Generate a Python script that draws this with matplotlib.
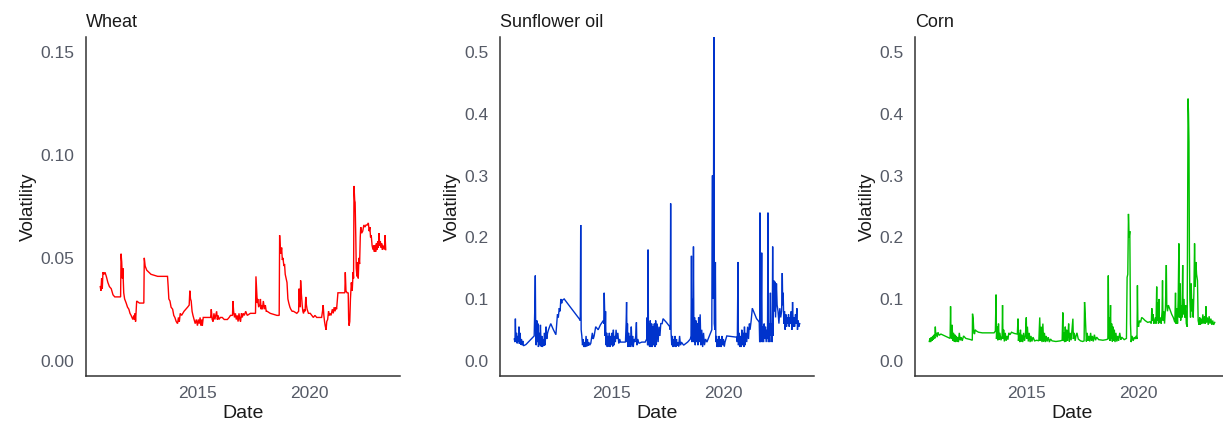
import matplotlib
matplotlib.use("Agg")
import matplotlib.pyplot as plt
import numpy as np

plt.rcParams['font.family'] = ['Liberation Sans', 'DejaVu Sans']

# (decimal year, volatility)
wheat = [
(2010.65,0.036),(2010.68,0.034),(2010.71,0.040),(2010.74,0.035),(2010.77,0.043),(2010.82,0.042),
(2010.86,0.043),(2010.92,0.041),(2010.99,0.038),(2011.06,0.036),(2011.14,0.035),(2011.22,0.032),
(2011.30,0.031),(2011.56,0.031),(2011.58,0.052),(2011.61,0.048),(2011.64,0.040),(2011.66,0.045),
(2011.70,0.033),(2011.74,0.030),(2011.81,0.028),(2011.87,0.026),(2011.93,0.025),(2011.98,0.023),
(2012.03,0.022),(2012.07,0.021),(2012.11,0.020),(2012.15,0.022),(2012.18,0.020),(2012.21,0.023),
(2012.23,0.019),(2012.26,0.025),(2012.28,0.029),(2012.40,0.028),(2012.60,0.028),(2012.62,0.050),
(2012.66,0.046),(2012.73,0.044),(2012.92,0.042),(2013.22,0.041),(2013.66,0.041),(2013.69,0.036),
(2013.72,0.030),(2013.77,0.029),(2013.82,0.026),(2013.89,0.025),(2013.94,0.022),(2013.99,0.021),
(2014.05,0.019),(2014.11,0.018),(2014.15,0.021),(2014.19,0.019),(2014.23,0.023),(2014.29,0.022),
(2014.40,0.024),(2014.48,0.025),(2014.56,0.026),(2014.63,0.027),(2014.66,0.034),(2014.69,0.030),
(2014.72,0.029),(2014.76,0.024),(2014.80,0.022),(2014.85,0.020),(2014.90,0.018),(2014.95,0.020),
(2015.00,0.017),(2015.04,0.020),(2015.08,0.018),(2015.12,0.021),(2015.15,0.017),(2015.19,0.020),
(2015.22,0.017),(2015.26,0.021),(2015.30,0.021),(2015.59,0.021),(2015.62,0.025),(2015.66,0.020),
(2015.70,0.019),(2015.74,0.023),(2015.78,0.020),(2015.82,0.022),(2015.86,0.024),(2015.89,0.020),
(2015.93,0.022),(2015.96,0.020),(2016.03,0.021),(2016.11,0.021),(2016.20,0.020),(2016.34,0.020),
(2016.42,0.021),(2016.48,0.022),(2016.57,0.022),(2016.59,0.029),(2016.62,0.024),(2016.66,0.021),
(2016.70,0.023),(2016.74,0.020),(2016.78,0.022),(2016.82,0.019),(2016.86,0.023),(2016.90,0.020),
(2016.93,0.019),(2016.97,0.023),(2017.01,0.021),(2017.05,0.023),(2017.10,0.022),(2017.16,0.024),
(2017.23,0.022),(2017.37,0.023),(2017.60,0.023),(2017.62,0.041),(2017.65,0.034),(2017.68,0.028),
(2017.70,0.030),(2017.74,0.026),(2017.79,0.027),(2017.82,0.030),(2017.85,0.025),(2017.88,0.027),
(2017.91,0.025),(2017.95,0.029),(2018.00,0.025),(2018.04,0.027),(2018.08,0.024),(2018.12,0.024),
(2018.26,0.023),(2018.56,0.022),(2018.66,0.022),(2018.68,0.061),(2018.71,0.053),(2018.74,0.052),
(2018.77,0.055),(2018.80,0.049),(2018.83,0.050),(2018.87,0.046),(2018.90,0.047),(2018.93,0.042),
(2018.97,0.040),(2019.01,0.038),(2019.05,0.030),(2019.09,0.028),(2019.14,0.026),(2019.18,0.025),
(2019.24,0.024),(2019.30,0.024),(2019.45,0.023),(2019.53,0.024),(2019.55,0.035),(2019.57,0.030),
(2019.60,0.026),(2019.62,0.039),(2019.65,0.033),(2019.69,0.027),(2019.72,0.024),(2019.75,0.023),
(2019.79,0.025),(2019.82,0.024),(2019.85,0.031),(2019.88,0.027),(2019.91,0.025),(2019.94,0.024),
(2019.97,0.023),(2020.05,0.023),(2020.12,0.022),(2020.19,0.021),(2020.26,0.022),(2020.34,0.021),
(2020.45,0.021),(2020.56,0.021),(2020.60,0.024),(2020.63,0.027),(2020.66,0.022),(2020.69,0.019),
(2020.72,0.017),(2020.76,0.015),(2020.79,0.019),(2020.83,0.020),(2020.87,0.024),(2020.90,0.022),
(2020.93,0.023),(2020.98,0.022),(2021.04,0.025),(2021.08,0.023),(2021.12,0.026),(2021.16,0.024),
(2021.20,0.026),(2021.23,0.025),(2021.27,0.030),(2021.29,0.033),(2021.45,0.033),(2021.60,0.033),
(2021.62,0.043),(2021.65,0.034),(2021.70,0.033),(2021.75,0.033),(2021.77,0.020),(2021.79,0.017),
(2021.82,0.019),(2021.85,0.030),(2021.89,0.038),(2021.93,0.034),(2021.97,0.043),(2021.99,0.040),
(2022.01,0.085),(2022.04,0.078),(2022.06,0.077),(2022.09,0.060),(2022.11,0.045),(2022.14,0.041),
(2022.17,0.048),(2022.20,0.040),(2022.23,0.050),(2022.26,0.047),(2022.29,0.060),(2022.31,0.065),
(2022.35,0.062),(2022.40,0.063),(2022.45,0.066),(2022.50,0.065),(2022.55,0.066),(2022.60,0.066),
(2022.65,0.067),(2022.69,0.063),(2022.72,0.065),(2022.75,0.060),(2022.78,0.061),(2022.82,0.056),
(2022.86,0.054),(2022.89,0.056),(2022.92,0.053),(2022.95,0.056),(2022.98,0.053),(2023.01,0.057),
(2023.04,0.054),(2023.07,0.058),(2023.10,0.055),(2023.13,0.062),(2023.16,0.056),(2023.19,0.058),
(2023.22,0.055),(2023.25,0.057),(2023.28,0.054),(2023.31,0.056),(2023.34,0.055),(2023.37,0.054),
(2023.40,0.061),(2023.43,0.054),
]

sunflower = [
(2010.65,0.035),(2010.68,0.030),(2010.70,0.068),(2010.72,0.032),(2010.75,0.045),(2010.78,0.028),
(2010.80,0.040),(2010.83,0.030),(2010.86,0.055),(2010.88,0.027),(2010.91,0.045),(2010.94,0.026),
(2010.97,0.035),(2011.00,0.025),(2011.03,0.032),(2011.06,0.024),(2011.17,0.026),(2011.54,0.040),
(2011.57,0.090),(2011.59,0.138),(2011.61,0.040),(2011.63,0.025),(2011.66,0.065),(2011.68,0.030),
(2011.71,0.060),(2011.73,0.022),(2011.76,0.045),(2011.79,0.025),(2011.82,0.058),(2011.85,0.023),
(2011.88,0.040),(2011.91,0.022),(2011.94,0.035),(2011.97,0.024),(2012.00,0.045),(2012.03,0.025),
(2012.07,0.055),(2012.10,0.035),(2012.14,0.045),(2012.18,0.050),(2012.23,0.055),(2012.28,0.060),
(2012.40,0.050),(2012.51,0.042),(2012.55,0.060),(2012.58,0.075),(2012.62,0.070),(2012.66,0.085),
(2012.70,0.080),(2012.73,0.100),(2012.77,0.093),(2012.80,0.098),(2012.88,0.100),(2013.55,0.068),
(2013.60,0.065),(2013.62,0.220),(2013.64,0.050),(2013.67,0.040),(2013.70,0.025),(2013.73,0.035),
(2013.76,0.022),(2013.79,0.030),(2013.82,0.022),(2013.86,0.040),(2013.89,0.023),(2013.92,0.035),
(2013.95,0.024),(2013.98,0.030),(2014.02,0.025),(2014.07,0.028),(2014.14,0.045),(2014.18,0.035),
(2014.22,0.040),(2014.29,0.055),(2014.40,0.050),(2014.50,0.058),(2014.63,0.065),(2014.65,0.060),
(2014.67,0.110),(2014.69,0.080),(2014.71,0.040),(2014.73,0.080),(2014.75,0.025),(2014.78,0.045),
(2014.81,0.022),(2014.84,0.040),(2014.87,0.023),(2014.90,0.045),(2014.93,0.022),(2014.96,0.040),
(2014.99,0.025),(2015.02,0.045),(2015.05,0.023),(2015.08,0.050),(2015.11,0.025),(2015.14,0.040),
(2015.17,0.030),(2015.20,0.050),(2015.24,0.035),(2015.28,0.045),(2015.32,0.028),(2015.36,0.035),
(2015.40,0.030),(2015.62,0.030),(2015.65,0.060),(2015.67,0.095),(2015.69,0.030),(2015.71,0.060),
(2015.73,0.022),(2015.76,0.045),(2015.79,0.023),(2015.82,0.040),(2015.85,0.022),(2015.88,0.055),
(2015.91,0.025),(2015.94,0.040),(2015.97,0.022),(2016.00,0.035),(2016.04,0.030),(2016.08,0.040),
(2016.11,0.062),(2016.13,0.025),(2016.17,0.035),(2016.22,0.028),(2016.35,0.030),(2016.50,0.030),
(2016.57,0.035),(2016.59,0.070),(2016.61,0.025),(2016.63,0.180),(2016.65,0.025),(2016.68,0.060),
(2016.70,0.022),(2016.73,0.065),(2016.76,0.022),(2016.79,0.060),(2016.82,0.022),(2016.85,0.055),
(2016.88,0.025),(2016.91,0.060),(2016.94,0.022),(2016.97,0.065),(2017.00,0.025),(2017.04,0.060),
(2017.08,0.030),(2017.12,0.055),(2017.16,0.040),(2017.20,0.060),(2017.26,0.060),(2017.30,0.068),
(2017.45,0.062),(2017.60,0.055),(2017.62,0.050),(2017.64,0.255),(2017.66,0.045),(2017.69,0.025),
(2017.72,0.040),(2017.75,0.022),(2017.78,0.035),(2017.81,0.023),(2017.84,0.040),(2017.87,0.022),
(2017.90,0.035),(2017.93,0.024),(2017.96,0.030),(2018.00,0.023),(2018.04,0.040),(2018.08,0.025),
(2018.12,0.030),(2018.22,0.025),(2018.40,0.030),(2018.52,0.035),(2018.55,0.040),(2018.57,0.170),
(2018.59,0.030),(2018.62,0.100),(2018.64,0.035),(2018.66,0.185),(2018.68,0.030),(2018.71,0.070),
(2018.74,0.025),(2018.77,0.065),(2018.80,0.030),(2018.83,0.060),(2018.86,0.025),(2018.89,0.070),
(2018.92,0.030),(2018.96,0.075),(2018.99,0.025),(2019.03,0.050),(2019.07,0.022),(2019.11,0.045),
(2019.15,0.025),(2019.20,0.035),(2019.26,0.030),(2019.48,0.050),(2019.50,0.300),(2019.52,0.300),
(2019.55,0.100),(2019.57,0.550),(2019.59,0.060),(2019.62,0.050),(2019.64,0.160),(2019.66,0.030),
(2019.69,0.040),(2019.72,0.022),(2019.75,0.035),(2019.78,0.022),(2019.81,0.040),(2019.84,0.023),
(2019.87,0.035),(2019.90,0.022),(2019.93,0.040),(2019.96,0.025),(2020.00,0.035),(2020.04,0.023),
(2020.07,0.030),(2020.15,0.040),(2020.59,0.038),(2020.62,0.030),(2020.65,0.160),(2020.67,0.025),
(2020.70,0.045),(2020.73,0.022),(2020.76,0.040),(2020.79,0.022),(2020.82,0.050),(2020.85,0.025),
(2020.88,0.045),(2020.91,0.022),(2020.94,0.055),(2020.97,0.025),(2021.00,0.045),(2021.04,0.030),
(2021.08,0.055),(2021.12,0.035),(2021.16,0.060),(2021.19,0.050),(2021.24,0.065),(2021.29,0.085),
(2021.40,0.075),(2021.48,0.068),(2021.55,0.065),(2021.60,0.062),(2021.62,0.030),(2021.63,0.240),
(2021.65,0.030),(2021.68,0.050),(2021.71,0.175),(2021.73,0.030),(2021.76,0.055),(2021.79,0.030),
(2021.82,0.060),(2021.85,0.035),(2021.88,0.055),(2021.91,0.030),(2021.95,0.050),(2021.97,0.035),
(2021.99,0.240),(2022.01,0.030),(2022.04,0.060),(2022.07,0.030),(2022.10,0.110),(2022.12,0.040),
(2022.15,0.060),(2022.18,0.030),(2022.20,0.185),(2022.22,0.040),(2022.25,0.130),(2022.27,0.080),
(2022.30,0.128),(2022.33,0.070),(2022.37,0.125),(2022.40,0.090),(2022.44,0.080),(2022.48,0.060),
(2022.52,0.085),(2022.56,0.070),(2022.60,0.080),(2022.63,0.142),(2022.65,0.090),(2022.67,0.110),
(2022.70,0.060),(2022.73,0.080),(2022.76,0.050),(2022.79,0.075),(2022.82,0.055),(2022.85,0.070),
(2022.88,0.060),(2022.91,0.075),(2022.94,0.055),(2022.97,0.070),(2023.00,0.060),(2023.03,0.080),
(2023.06,0.050),(2023.09,0.095),(2023.12,0.055),(2023.15,0.070),(2023.18,0.055),(2023.22,0.075),
(2023.25,0.060),(2023.28,0.085),(2023.31,0.050),(2023.34,0.065),(2023.37,0.055),(2023.41,0.060),
]

corn = [
(2010.65,0.031),(2010.68,0.036),(2010.71,0.030),(2010.74,0.038),(2010.77,0.032),(2010.80,0.040),
(2010.83,0.034),(2010.87,0.042),(2010.90,0.036),(2010.92,0.055),(2010.94,0.040),(2010.97,0.045),
(2011.00,0.038),(2011.04,0.046),(2011.09,0.041),(2011.17,0.043),(2011.40,0.039),(2011.58,0.036),
(2011.60,0.088),(2011.62,0.040),(2011.65,0.035),(2011.67,0.058),(2011.70,0.032),(2011.73,0.045),
(2011.76,0.031),(2011.79,0.042),(2011.82,0.030),(2011.86,0.040),(2011.89,0.031),(2011.92,0.038),
(2011.95,0.030),(2011.99,0.045),(2012.03,0.033),(2012.07,0.038),(2012.12,0.032),(2012.18,0.040),
(2012.28,0.036),(2012.50,0.034),(2012.57,0.033),(2012.58,0.076),(2012.61,0.068),(2012.64,0.045),
(2012.67,0.043),(2012.70,0.050),(2012.75,0.048),(2012.85,0.046),(2013.02,0.045),(2013.30,0.045),
(2013.54,0.045),(2013.60,0.048),(2013.63,0.107),(2013.65,0.035),(2013.68,0.055),(2013.71,0.033),
(2013.74,0.060),(2013.77,0.034),(2013.80,0.045),(2013.85,0.033),(2013.90,0.040),(2013.92,0.090),
(2013.94,0.035),(2013.97,0.050),(2014.00,0.031),(2014.04,0.045),(2014.08,0.032),(2014.12,0.040),
(2014.16,0.034),(2014.20,0.045),(2014.25,0.042),(2014.32,0.046),(2014.45,0.044),(2014.58,0.043),
(2014.61,0.068),(2014.63,0.032),(2014.66,0.045),(2014.69,0.030),(2014.72,0.050),(2014.75,0.031),
(2014.78,0.042),(2014.82,0.030),(2014.86,0.045),(2014.90,0.032),(2014.94,0.040),(2014.98,0.070),
(2015.00,0.035),(2015.03,0.055),(2015.07,0.031),(2015.11,0.045),(2015.15,0.030),(2015.19,0.040),
(2015.23,0.031),(2015.28,0.038),(2015.35,0.032),(2015.45,0.033),(2015.54,0.032),(2015.58,0.070),
(2015.61,0.032),(2015.65,0.055),(2015.68,0.030),(2015.72,0.060),(2015.75,0.031),(2015.79,0.045),
(2015.83,0.030),(2015.87,0.040),(2015.91,0.031),(2015.96,0.038),(2016.01,0.030),(2016.06,0.035),
(2016.13,0.032),(2016.30,0.031),(2016.50,0.032),(2016.58,0.033),(2016.61,0.078),(2016.63,0.032),
(2016.66,0.045),(2016.69,0.030),(2016.72,0.055),(2016.75,0.031),(2016.78,0.050),(2016.81,0.032),
(2016.84,0.040),(2016.87,0.060),(2016.90,0.031),(2016.94,0.045),(2016.98,0.033),(2017.02,0.050),
(2017.06,0.068),(2017.08,0.035),(2017.12,0.045),(2017.16,0.032),(2017.20,0.040),(2017.24,0.045),
(2017.30,0.035),(2017.40,0.032),(2017.50,0.031),(2017.56,0.032),(2017.58,0.095),(2017.61,0.075),
(2017.64,0.050),(2017.66,0.031),(2017.70,0.045),(2017.73,0.032),(2017.77,0.040),(2017.81,0.031),
(2017.85,0.045),(2017.89,0.032),(2017.93,0.040),(2017.97,0.031),(2018.02,0.042),(2018.07,0.033),
(2018.12,0.038),(2018.21,0.034),(2018.40,0.033),(2018.55,0.034),(2018.62,0.035),(2018.64,0.138),
(2018.66,0.035),(2018.68,0.070),(2018.71,0.032),(2018.74,0.090),(2018.76,0.035),(2018.79,0.060),
(2018.82,0.031),(2018.85,0.055),(2018.88,0.032),(2018.91,0.050),(2018.94,0.030),(2018.98,0.045),
(2019.02,0.031),(2019.06,0.040),(2019.10,0.032),(2019.15,0.045),(2019.20,0.034),(2019.24,0.038),
(2019.35,0.034),(2019.45,0.036),(2019.48,0.135),(2019.51,0.140),(2019.54,0.238),(2019.57,0.200),
(2019.60,0.210),(2019.63,0.060),(2019.66,0.030),(2019.70,0.040),(2019.75,0.032),(2019.80,0.038),
(2019.84,0.035),(2019.88,0.040),(2019.92,0.035),(2019.94,0.122),(2019.96,0.060),(2019.99,0.055),
(2020.03,0.065),(2020.08,0.062),(2020.13,0.070),(2020.20,0.068),(2020.28,0.065),(2020.40,0.062),
(2020.50,0.063),(2020.56,0.060),(2020.58,0.085),(2020.61,0.065),(2020.64,0.075),(2020.67,0.060),
(2020.70,0.062),(2020.74,0.070),(2020.77,0.060),(2020.80,0.120),(2020.82,0.065),(2020.85,0.095),
(2020.88,0.060),(2020.90,0.100),(2020.92,0.062),(2020.96,0.070),(2021.00,0.060),(2021.04,0.080),
(2021.06,0.130),(2021.08,0.065),(2021.12,0.080),(2021.15,0.060),(2021.19,0.085),(2021.23,0.155),
(2021.25,0.090),(2021.28,0.080),(2021.32,0.090),(2021.40,0.082),(2021.47,0.075),(2021.54,0.070),
(2021.61,0.062),(2021.64,0.110),(2021.66,0.060),(2021.70,0.085),(2021.73,0.060),(2021.76,0.100),
(2021.79,0.190),(2021.81,0.070),(2021.83,0.100),(2021.85,0.125),(2021.87,0.065),(2021.90,0.090),
(2021.93,0.070),(2021.96,0.155),(2021.98,0.075),(2022.02,0.100),(2022.05,0.070),(2022.09,0.090),
(2022.12,0.060),(2022.16,0.055),(2022.20,0.425),(2022.22,0.400),(2022.24,0.355),(2022.26,0.180),
(2022.28,0.100),(2022.31,0.070),(2022.34,0.125),(2022.37,0.080),(2022.40,0.100),(2022.43,0.070),
(2022.46,0.110),(2022.49,0.190),(2022.52,0.120),(2022.55,0.160),(2022.58,0.140),(2022.62,0.130),
(2022.65,0.065),(2022.69,0.058),(2022.72,0.070),(2022.75,0.058),(2022.78,0.068),(2022.82,0.060),
(2022.86,0.075),(2022.90,0.060),(2022.94,0.072),(2022.97,0.060),(2023.00,0.088),(2023.02,0.062),
(2023.06,0.070),(2023.10,0.058),(2023.14,0.072),(2023.18,0.060),(2023.22,0.068),(2023.26,0.058),
(2023.30,0.065),(2023.34,0.058),(2023.39,0.062),
]

titles = ["Wheat", "Sunflower oil", "Corn"]
colors = ["#FF0000", "#0033CC", "#00C000"]
x_ticks = [2015, 2020]
wheat_yticks = [0.00, 0.05, 0.10, 0.15]
other_yticks = [0.0, 0.1, 0.2, 0.3, 0.4, 0.5]

W, H = 1223, 422
fig = plt.figure(figsize=(W / 100, H / 100), dpi=100)
lefts = [86, 500, 915]
ax_w, ax_top, ax_bot = 314, 37, 376

series = [wheat, sunflower, corn]
for i, (data, title, col) in enumerate(zip(series, titles, colors)):
    ax = fig.add_axes([lefts[i] / W, (H - ax_bot) / H, ax_w / W, (ax_bot - ax_top) / H])
    x = np.array([d[0] for d in data])
    y = np.array([d[1] for d in data])
    ax.plot(x, y, color=col, lw=1.0, solid_joinstyle='miter')
    span = x.max() - x.min()
    ax.set_xlim(x.min() - 0.05 * span, x.max() + 0.05 * span)
    if i == 0:
        ax.set_ylim(-0.0075, 0.1575)
        ax.set_yticks(wheat_yticks)
        ax.set_yticklabels(["%.2f" % v for v in wheat_yticks])
    else:
        ax.set_ylim(-0.025, 0.525)
        ax.set_yticks(other_yticks)
        ax.set_yticklabels(["%.1f" % v for v in other_yticks])
    ax.set_xticks(x_ticks)
    ax.set_xticklabels([str(t) for t in x_ticks])
    for s in ["top", "right"]:
        ax.spines[s].set_visible(False)
    for s in ["left", "bottom"]:
        ax.spines[s].set_color("#333333")
        ax.spines[s].set_linewidth(1.1)
    ax.tick_params(axis="both", length=0, labelsize=12.5, labelcolor="#555a66")
    ax.tick_params(axis="y", pad=8.5)
    ax.tick_params(axis="x", pad=7)
    ax.set_xlabel("Date", fontsize=14, color="#1a1a1a", labelpad=3)
    ax.set_ylabel("Volatility", fontsize=13.5, color="#1a1a1a", labelpad=2)
    ax.set_title(title, loc="left", fontsize=13, color="#1a1a1a", pad=7)

fig.savefig("out.png", dpi=100)
